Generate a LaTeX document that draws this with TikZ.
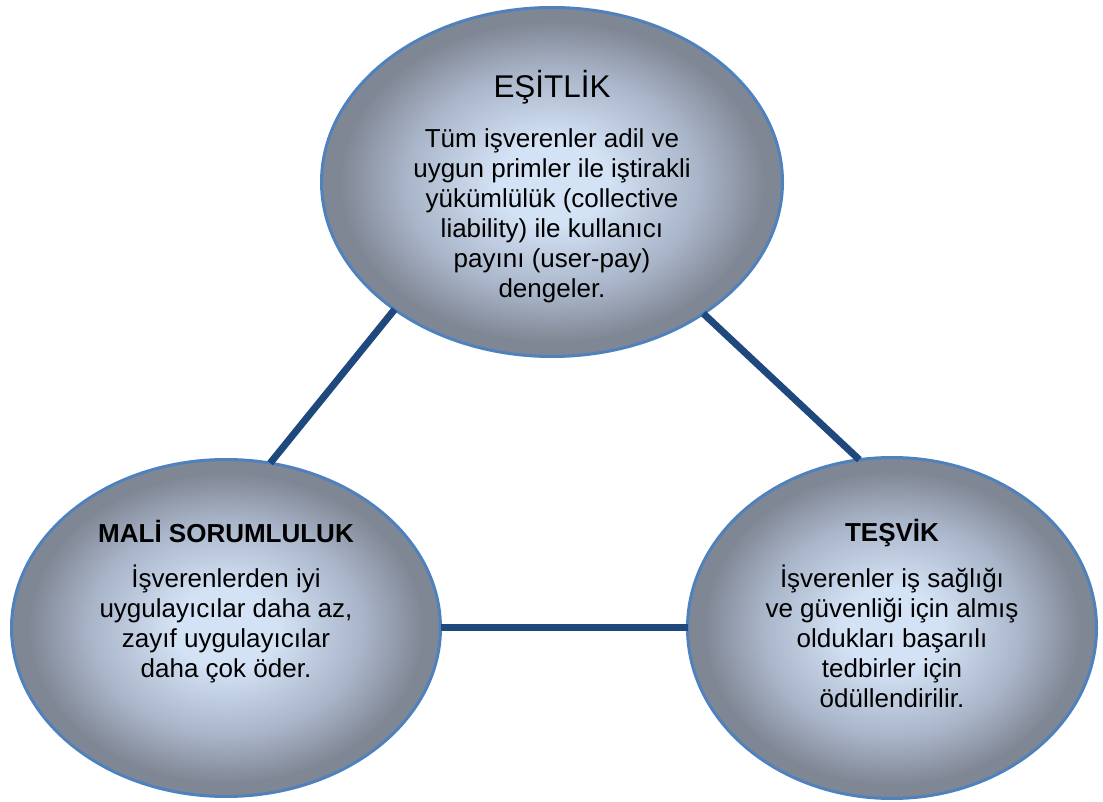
\documentclass[tikz,border=0pt]{standalone}
\usepackage{fontspec}
\setmainfont{Liberation Sans}
\usetikzlibrary{shapes.geometric,positioning}
\definecolor{ovalin}{RGB}{212,226,246}
\definecolor{ovalmid}{RGB}{168,180,200}
\definecolor{ovalout}{RGB}{128,135,148}
\definecolor{ovalline}{RGB}{79,129,189}
\definecolor{linkblue}{RGB}{31,73,125}
\pgfdeclareradialshading{ovalshade}{\pgfpointorigin}{color(0bp)=(ovalin); color(6bp)=(ovalin); color(16bp)=(ovalmid); color(23bp)=(ovalout); color(50bp)=(ovalout)}

\begin{document}
\begin{tikzpicture}[x = 1pt, y = 1pt,
        oval/.style = {ellipse, draw = ovalline, line width = 3pt, shading = ovalshade, inner sep = 0pt, outer sep = 0pt},
        ovaltitle/.style = {font = \fontsize{26}{30}\selectfont\bfseries, inner sep = 0pt, anchor = base},
        ovaltext/.style = {font = \fontsize{26}{30}\selectfont, inner sep = 0pt},
        link/.style = {draw = linkblue, line width = 7pt}]
        \useasboundingbox (0,0) rectangle (1103,801);
        \node [oval, minimum width = 429pt, minimum height = 337pt] (M) at (226,173) {};
        \node [oval, minimum width = 409pt, minimum height = 341pt] (T) [right = 247pt of M] {};
        \node [oval, minimum width = 461pt, minimum height = 349pt] (E) at (552,619) {};

        \node [ovaltitle, font = \fontsize{31.4}{36}\selectfont] (Et) at ([yshift = 84pt] E.center) {EŞİTLİK};
        \node [ovaltext, below = 50pt of Et.base, anchor = base] (Eb) {\begin{tabular}[t]{@{}c@{}}
            Tüm işverenler adil ve\\ uygun primler ile iştirakli\\ yükümlülük (collective\\
            liability) ile kullanıcı\\ payını (user-pay)\\ dengeler.\end{tabular}};

        \node [ovaltitle] (Mt) at ([yshift = 85pt] M.center) {MALİ SORUMLULUK};
        \node [ovaltext, below = 45pt of Mt.base, anchor = base] (Mb) {\begin{tabular}[t]{@{}c@{}}
            İşverenlerden iyi\\ uygulayıcılar daha az,\\ zayıf uygulayıcılar\\ daha çok öder.\end{tabular}};

        \node [ovaltitle] (Tt) at ([yshift = 86pt] T.center) {TEŞVİK};
        \node [ovaltext, below = 46pt of Tt.base, anchor = base] (Tb) {\begin{tabular}[t]{@{}c@{}}
            İşverenler iş sağlığı\\ ve güvenliği için almış\\ oldukları başarılı\\
            tedbirler için\\ ödüllendirilir.\end{tabular}};

        \path
            (E.219.7) edge [link] (M.75.5)
            (E.319.9) edge [link] (T.101.4)
            (M.east) edge [link] (T.west);
    \end{tikzpicture}
\end{document}
